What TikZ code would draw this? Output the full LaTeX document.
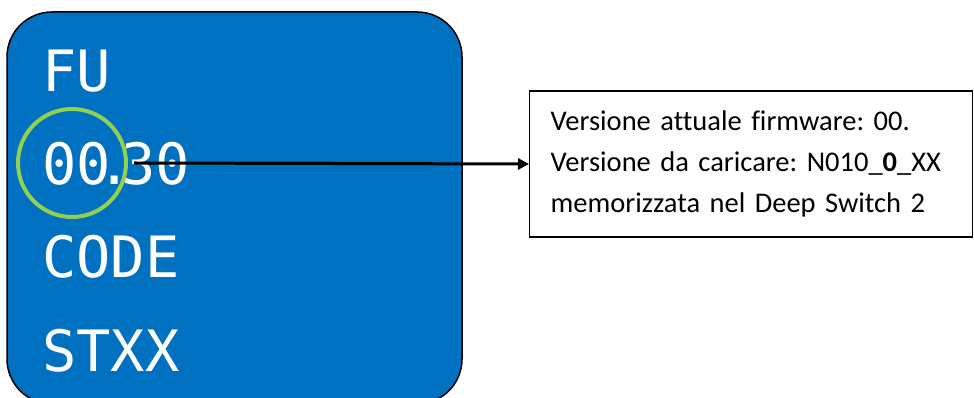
\documentclass[tikz,border=0pt]{standalone}
\usepackage{fontspec}
\setmainfont{Carlito}[Ligatures=NoCommon]
\newfontfamily\lcdfont{DejaVu Sans Mono}
\usepackage{xcolor}
\usetikzlibrary{arrows.meta, positioning}
\definecolor{panelblue}{RGB}{0,112,192}
\definecolor{ringgreen}{RGB}{146,208,80}
\frenchspacing

\begin{document}
\begin{tikzpicture}[
    x=1pt, y=1pt,
    lcd/.style={anchor=base west, inner sep=0pt, text=white, font=\lcdfont\fontsize{57}{57}\selectfont},
    info/.style={draw, line width=1.3pt, anchor=west, text width=401pt, inner xsep=21pt,
      minimum height=146pt, align=left, font=\fontsize{28.5}{41}\selectfont},
    arr/.style={-{Triangle[length=11pt, width=11pt]}, line width=3pt},
  ]
  \useasboundingbox (0,0) rectangle (974,398);
  % display panel
  \draw[fill=panelblue, line width=1.5pt, rounded corners=45pt] (7,-6) rectangle (462,386);
  \node[lcd] (fu) at (42,306) {FU};
  \node[lcd] (ver) at (42,213) {00\kern-13pt.\kern-11pt30};
  \node[lcd] (code) at (42,120) {CODE};
  \node[lcd] (st) at (42,26) {STXX};
  \node[draw=ringgreen, line width=4pt, circle, minimum size=108pt] (ring) at (72,235) {};
  % note
  \node[info] (note) at (529,234) {Versione attuale firmware: 00.\\
    Versione da caricare: N010\_\textbf{0}\_XX\\
    memorizzata nel Deep Switch 2};
  \coordinate (dot) at (134,235);
  \draw[arr] (dot) -- (note.west);
\end{tikzpicture}
\end{document}
